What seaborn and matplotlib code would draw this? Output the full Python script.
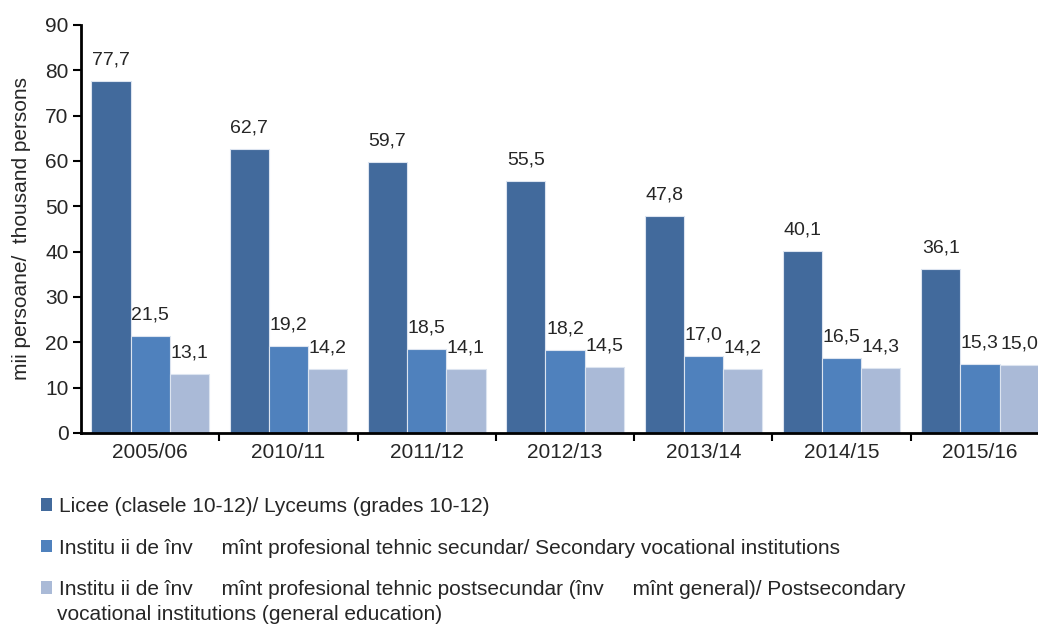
import matplotlib
matplotlib.use("Agg")
import matplotlib.pyplot as plt
import pandas as pd
import seaborn as sns
from matplotlib.patches import Patch

ani = ["2005/06", "2010/11", "2011/12", "2012/13", "2013/14", "2014/15", "2015/16"]
licee = [77.7, 62.7, 59.7, 55.5, 47.8, 40.1, 36.1]
secundar = [21.5, 19.2, 18.5, 18.2, 17.0, 16.5, 15.3]
postsecundar = [13.1, 14.2, 14.1, 14.5, 14.2, 14.3, 15.0]

serii = [
    "Licee (clasele 10-12)/ Lyceums (grades 10-12)",
    "Institu ii de înv     mînt profesional tehnic secundar/ Secondary vocational institutions",
    "Institu ii de înv     mînt profesional tehnic postsecundar (înv     mînt general)/ Postsecondary",
]
rand_doi = "vocational institutions (general education)"
culori = ["#426A9C", "#4F81BD", "#AABAD7"]

sns.set_theme(style="white")
plt.rcParams["font.family"] = ["Liberation Sans", "DejaVu Sans"]

df = pd.DataFrame({
    "an": ani * 3,
    "valoare": licee + secundar + postsecundar,
    "serie": [serii[0]] * 7 + [serii[1]] * 7 + [serii[2]] * 7,
})

fig = plt.figure(figsize=(10.38, 6.25), dpi=100)
ax = fig.add_axes([81 / 1038, 1 - 433 / 625, 1 - 81 / 1038, 408 / 625])

sns.barplot(data=df, x="an", y="valoare", hue="serie", palette=culori,
            saturation=1, width=0.85, gap=0, ax=ax, legend=False,
            edgecolor="#DCE4F0", linewidth=0.8)

for cont in ax.containers:
    ax.bar_label(cont, labels=[f"{v:.1f}".replace(".", ",") for v in cont.datavalues],
                 padding=9, fontsize=14)

ax.set_ylim(0, 90)
ax.set_yticks(range(0, 91, 10))
ax.set_xlim(-0.5, 6.42)
ax.set_xticks([i + 0.5 for i in range(6)], minor=True)
ax.tick_params(axis="x", which="major", length=0, labelsize=15, pad=7)
ax.tick_params(axis="x", which="minor", length=6, width=1.5, direction="out", bottom=True, color="black")
ax.tick_params(axis="y", length=6, width=1.5, direction="out", left=True, labelsize=15, pad=3, color="black")
ax.set_xlabel("")
ax.set_ylabel("mii persoane/  thousand persons", fontsize=15, labelpad=10)
for s in ["top", "right"]:
    ax.spines[s].set_visible(False)
for s in ["left", "bottom"]:
    ax.spines[s].set_color("black")
    ax.spines[s].set_linewidth(2)

handles = [Patch(facecolor=c, edgecolor="none") for c in culori]
fig.legend(handles, serii, loc="upper left", bbox_to_anchor=(41 / 1038, 1 - 497 / 625),
           frameon=False, fontsize=15, handlelength=0.55, handleheight=0.55,
           handletextpad=0.3, labelspacing=1.08, borderaxespad=0, borderpad=0)
fig.text(57 / 1038, 1 - 614 / 625, rand_doi, fontsize=15, va="center", ha="left")

fig.savefig("out.png", dpi=100)
